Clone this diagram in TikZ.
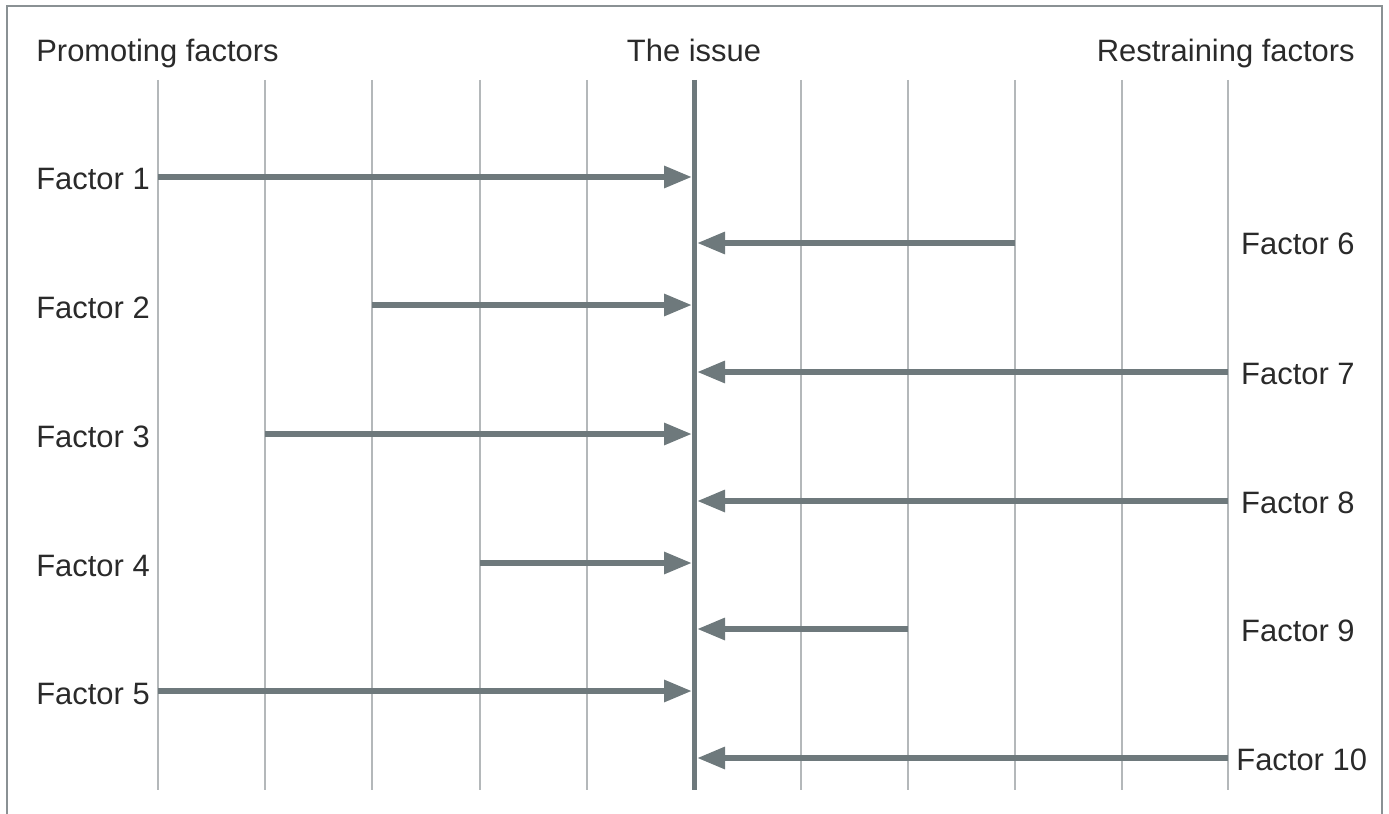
\documentclass[tikz,border=0pt]{standalone}
\usepackage{fontspec}
\setmainfont{Liberation Sans}
\usetikzlibrary{arrows.meta}
\definecolor{arrowgray}{HTML}{6E797C}
\definecolor{gridgray}{HTML}{B4B8BA}
\definecolor{framegray}{HTML}{8A9194}
\definecolor{textgray}{HTML}{2A2A2A}

\begin{document}
\begin{tikzpicture}[x=0.02cm, y=-0.02cm,
  grid/.style={gridgray, line width=0.03cm},
  issue/.style={arrowgray, line width=0.1cm},
  push/.style={arrowgray, line width=0.12cm, -{Triangle[length=0.56cm, width=0.42cm]}},
  lbl/.style={font=\fontsize{17.6}{20}\selectfont, text=textgray, inner sep=0pt},
]
\useasboundingbox (0,0) rectangle (1389,814);
% frame, open at the bottom
\draw[framegray, line width=0.03cm] (7,814) -- (7,6) -- (1382,6) -- (1382,814);

% headings
\node[lbl, anchor=base west] (prom) at (36,62) {Promoting factors};
\node[lbl, anchor=base] (iss) at (694,62) {The issue};
\node[lbl, anchor=base east] (rest) at (1355,62) {Restraining factors};

% grid
\foreach \x in {158,265,372,480,587,801,908,1015,1122,1228}
  \draw[grid] (\x,80) -- (\x,790);
\coordinate (top) at (694,80);
\coordinate (bot) at (694,790);
\draw[issue] (top) -- (bot);

% promoting factors (left)
\foreach \n/\y/\x in {1/177/158, 2/305/372, 3/434/265, 4/563/480, 5/691/158}{
  \node[lbl, anchor=base west] (f\n) at (36,\y+13) {Factor \n};
  \coordinate (s\n) at (\x,\y);
  \coordinate (e\n) at (692,\y);
  \draw[push] (s\n) -- (e\n);
}

% restraining factors (right)
\foreach \n/\y/\x in {6/243/1015, 7/372/1228, 8/501/1228, 9/629/908}{
  \node[lbl, anchor=base east] (f\n) at (1355,\y+12) {Factor \n};
  \coordinate (s\n) at (\x,\y);
  \coordinate (e\n) at (697,\y);
  \draw[push] (s\n) -- (e\n);
}
\node[lbl, anchor=base west] (f10) at (1236,770) {Factor 10};
\coordinate (s10) at (1228,758);
\coordinate (e10) at (697,758);
\draw[push] (s10) -- (e10);
\end{tikzpicture}
\end{document}
